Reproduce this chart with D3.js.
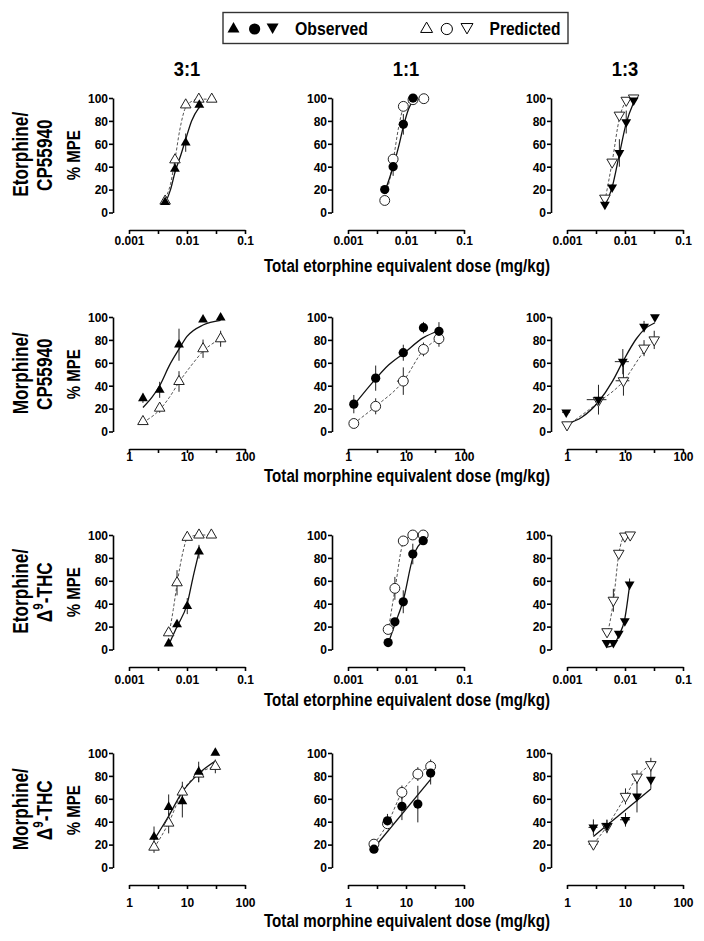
<!DOCTYPE html>
<html><head><meta charset="utf-8">
<script src="https://cdn.jsdelivr.net/npm/d3@7"></script>
<style>
body{margin:0;background:#fff}
svg{display:block}
text{font-family:"Liberation Sans",Arial,Helvetica,sans-serif;font-weight:bold;fill:#000}
</style>
</head><body>
<svg id="chart" width="704" height="941"></svg>
<script>
// ---------------- DATA ----------------
const ratios = ["3:1", "1:1", "1:3"];
const rowNames = [["Etorphine/", "CP55940"], ["Morphine/", "CP55940"], ["Etorphine/", "THC"], ["Morphine/", "THC"]];
const xTitles = ["Total etorphine equivalent dose (mg/kg)", "Total morphine equivalent dose (mg/kg)",
                 "Total etorphine equivalent dose (mg/kg)", "Total morphine equivalent dose (mg/kg)"];
const etorphineTicks = [0.001, 0.01, 0.1];
const etorphineTickLabels = ["0.001", "0.01", "0.1"];
const morphineTicks = [1, 10, 100];
const morphineTickLabels = ["1", "10", "100"];
const yTicks = [0, 20, 40, 60, 80, 100];
const legendObserved = "Observed";
const legendPredicted = "Predicted";

// points: [dose, %MPE, yErr, xErr]
// Row 1: Etorphine / CP55940
const etoCP_obs = [
  [[0.0042, 9, 2, 0], [0.0062, 38, 3, 0], [0.0095, 61, 8, 0], [0.0163, 94, 3, 0]],
  [[0.0043, 20, 2, 0], [0.0060, 40, 8, 0], [0.0090, 77, 9, 0], [0.0132, 100, 0, 0]],
  [[0.0045, 7, 2, 0], [0.0060, 22, 3, 0], [0.0080, 52, 12, 0], [0.0105, 79, 10, 0], [0.0141, 98, 2, 0]]
];
const etoCP_pred = [
  [[0.0042, 10, 0, 0], [0.0062, 46, 5, 0], [0.0095, 94, 2, 0], [0.016, 99, 0, 0], [0.0267, 99, 0, 0]],
  [[0.0043, 10.5, 0, 0], [0.0060, 46.6, 0, 0], [0.0090, 92.7, 0, 0], [0.0132, 98.5, 0, 0], [0.0203, 99.4, 0, 0]],
  [[0.0045, 12.5, 0, 0], [0.0060, 44, 0, 0], [0.0080, 85, 0, 0], [0.0105, 98, 0, 0], [0.0141, 100, 0, 0]]
];
const etoCP_obsFit = [
  [[0.0042, 8], [0.0052, 20], [0.0062, 35], [0.0078, 50], [0.0095, 64], [0.012, 80], [0.0163, 92]],
  [[0.0043, 18], [0.0060, 40], [0.0075, 58], [0.0090, 75], [0.011, 90], [0.0132, 98]],
  [[0.0045, 6], [0.0060, 22], [0.0080, 51], [0.0105, 78], [0.0141, 96]]
];
const etoCP_predFit = [
  [[0.0042, 12], [0.0052, 25], [0.0062, 46], [0.0075, 72], [0.0095, 92], [0.012, 97], [0.016, 99], [0.0267, 99]],
  [[0.0043, 12], [0.0052, 28], [0.0060, 45], [0.0075, 75], [0.0090, 91], [0.0132, 98], [0.0203, 99.4]],
  [[0.0045, 10], [0.0060, 44], [0.0080, 82], [0.0105, 97], [0.0141, 100]]
];

// Row 2: Morphine / CP55940
const morCP_obs = [
  [[1.74, 29, 4, 0], [3.38, 36.4, 7, 0], [7.28, 75.8, 14, 0], [18.9, 97.7, 2, 2], [38, 99.4, 0, 0]],
  [[1.26, 23.9, 8, 0], [3.0, 46.6, 11, 0], [8.98, 68.8, 7, 1.5], [20, 90.7, 5, 2], [37, 87.5, 8, 0]],
  [[0.97, 16.8, 0, 0.15], [3.49, 27.8, 13, 1.3], [9.17, 61, 11, 2.5], [21.3, 91.6, 5, 0], [32.8, 100, 0, 0]]
];
const morCP_pred = [
  [[1.74, 8.7, 2, 0], [3.38, 20.4, 4, 0], [7.28, 43.7, 9, 0], [18.9, 72.3, 8, 0], [38, 81, 7, 0]],
  [[1.26, 7, 0, 0], [3.0, 22, 7, 0], [8.98, 44, 12, 2], [20, 71.7, 6, 0], [37, 81, 7, 0]],
  [[1.0, 5.8, 0, 0], [3.49, 27, 4, 0], [9.4, 44.3, 13, 2.5], [21.3, 72.8, 7, 0], [31.9, 80, 8, 0]]
];
const morCP_obsFit = [
  [[1.74, 21], [2.5, 30], [3.38, 40], [5, 58], [7.28, 72], [10, 83], [18.9, 93], [38, 97]],
  [[1.26, 23], [3, 46], [5, 58], [9, 68], [20, 82], [37, 88]],
  [[1.0, 6.7], [1.8, 12.5], [3.49, 26], [6.1, 44], [9.17, 61], [15.7, 81], [21.3, 89], [32.8, 95]]
];
const morCP_predFit = [
  [[1.74, 8], [3.38, 19], [5, 30], [7.28, 43], [12, 58], [18.9, 70], [38, 81]],
  [[1.26, 7], [3, 22], [9, 44], [20, 71], [37, 81]],
  [[1.0, 5], [3.49, 25.5], [9.4, 44], [21.3, 70], [31.9, 80]]
];

// Row 3: Etorphine / THC
const etoTHC_obs = [
  [[0.00483, 5.2, 0, 0], [0.00673, 21.9, 3, 0], [0.0101, 37.9, 7, 0], [0.0161, 85.4, 6, 0]],
  [[0.00492, 6.1, 0, 0], [0.00643, 24.2, 3, 0], [0.00897, 41.7, 10, 0], [0.0131, 83.4, 9, 0], [0.0198, 95, 2, 0]],
  [[0.00481, 5.8, 0, 0], [0.0063, 5.8, 0, 0], [0.0078, 14, 0, 0], [0.00993, 24.8, 0, 0], [0.012, 57, 5, 0]]
];
const etoTHC_pred = [
  [[0.00483, 14.6, 3, 0], [0.00673, 58.3, 11, 0], [0.0101, 98, 0, 0], [0.0161, 100, 0, 0], [0.0263, 100, 0, 0]],
  [[0.00492, 17.5, 2, 0], [0.00643, 53.4, 10, 0], [0.00897, 94.8, 0, 0], [0.0131, 100, 0, 0], [0.0198, 100, 0, 0]],
  [[0.0049, 15.5, 0, 0], [0.0063, 43, 10, 0], [0.0078, 84, 0, 0], [0.00993, 99, 0, 0], [0.0123, 100, 0, 0]]
];
const etoTHC_obsFit = [
  [[0.00483, 4], [0.00673, 20], [0.0101, 40], [0.0127, 63], [0.0161, 85]],
  [[0.00492, 5], [0.00643, 22], [0.00897, 43], [0.0131, 80], [0.0198, 95]],
  [[0.0049, 2], [0.0063, 4], [0.0078, 12], [0.00993, 27], [0.012, 56]]
];
const etoTHC_predFit = [
  [[0.00483, 12], [0.0058, 35], [0.00673, 57], [0.0085, 85], [0.0101, 97], [0.0161, 100], [0.0263, 100]],
  [[0.00492, 16], [0.00643, 52], [0.00897, 93], [0.0131, 100], [0.0198, 100]],
  [[0.0049, 12], [0.0063, 42], [0.0078, 83], [0.00993, 99], [0.0123, 100]]
];

// Row 4: Morphine / THC
const morTHC_obs = [
  [[2.70, 26.8, 9, 0], [4.83, 52.8, 11, 0], [8.31, 57.7, 14, 0], [15.9, 83.4, 9, 0], [30.8, 100, 0, 0]],
  [[2.80, 16, 2, 0.4], [4.79, 40.8, 6, 0], [8.51, 53.4, 12, 0], [16, 55.4, 16, 0], [26.6, 82.5, 10, 0]],
  [[2.85, 35, 7, 0.5], [4.88, 36.4, 5, 0.7], [10.2, 41.7, 6, 2], [16.1, 62.1, 14, 0], [27.9, 76.7, 8, 0]]
];
const morTHC_pred = [
  [[2.70, 17.8, 5, 0.3], [4.83, 38.8, 9, 0], [8.31, 65.9, 9, 0], [15.9, 81.6, 7, 0], [30.8, 88.3, 6, 0]],
  [[2.80, 20.4, 3, 0.4], [4.79, 38.2, 3, 0], [8.51, 65.6, 6, 0], [16, 81.6, 6, 0], [26.6, 88.3, 6, 0]],
  [[2.85, 20.4, 0, 0.5], [4.88, 35.9, 6, 0], [10.2, 62.1, 7, 0], [16.1, 79, 6, 2], [27.9, 89.8, 6, 2]]
];
const morTHC_obsFit = [
  [[2.70, 24], [4.83, 45], [8.31, 66], [15.9, 82], [30.8, 93]],
  [[2.80, 17], [26.6, 77]],
  [[2.85, 27], [27.9, 68.5]]
];
const morTHC_predFit = [
  [[2.70, 17], [4.83, 39], [8.31, 66], [15.9, 82], [30.8, 88]],
  [[2.80, 20.4], [4.79, 38.2], [8.51, 65.6], [16, 81.6], [26.6, 88.3]],
  [[2.85, 20.4], [4.88, 35.9], [10.2, 62.1], [16.1, 79], [27.9, 89.8]]
];

// ---------------- LAYOUT ----------------
const rows = [
  {obs: etoCP_obs, pred: etoCP_pred, obsFit: etoCP_obsFit, predFit: etoCP_predFit, ticks: etorphineTicks, labels: etorphineTickLabels},
  {obs: morCP_obs, pred: morCP_pred, obsFit: morCP_obsFit, predFit: morCP_predFit, ticks: morphineTicks, labels: morphineTickLabels},
  {obs: etoTHC_obs, pred: etoTHC_pred, obsFit: etoTHC_obsFit, predFit: etoTHC_predFit, ticks: etorphineTicks, labels: etorphineTickLabels},
  {obs: morTHC_obs, pred: morTHC_pred, obsFit: morTHC_obsFit, predFit: morTHC_predFit, ticks: morphineTicks, labels: morphineTickLabels}
];
const colAxisX = [113, 332, 551];
const rowTop = [98, 317, 535, 753];
const plotH = 114.5;
const xStartOff = 16, xEndOff = 132, xAxisOff = 132;
const tickLabelOff = [15, 12, 17, 22];
const xTitleY = [272, 482, 706, 927];
const xTitleX = 407;

const svg = d3.select("#chart");

function fitText(sel, target) {
  const n = sel.node();
  const L = n.getComputedTextLength();
  const s = target / L;
  sel.attr("transform", (sel.attr("transform") || "") + ` scale(${s},1)`);
}
function condense(sel, s) {
  sel.attr("transform", (sel.attr("transform") || "") + ` scale(${s},1)`);
}

const symUp = d3.symbol().type(d3.symbolTriangle);
const symCircle = d3.symbol().type(d3.symbolCircle);
function markerPath(col, size) {
  if (col === 1) return symCircle.size(size * 1.6)();
  return symUp.size(size)();
}
function markerRot(col) { return col === 2 ? 180 : 0; }

// ---------------- LEGEND ----------------
svg.append("rect").attr("x", 223).attr("y", 12.5).attr("width", 345).attr("height", 31)
  .attr("fill", "none").attr("stroke", "#333").attr("stroke-width", 1.4);
[233.5, 254.6, 272.6].forEach((x, i) => {
  svg.append("path").attr("d", markerPath(i, 62))
    .attr("transform", `translate(${x},${i === 2 ? 27 : 29}) rotate(${markerRot(i)})`).attr("fill", "#000");
});
[426.6, 446.8, 467].forEach((x, i) => {
  svg.append("path").attr("d", markerPath(i, 62))
    .attr("transform", `translate(${x},${i === 2 ? 27 : 29}) rotate(${markerRot(i)})`)
    .attr("fill", "#fff").attr("stroke", "#000").attr("stroke-width", 1);
});
{
  const g1 = svg.append("g").attr("transform", "translate(295,35)");
  fitText(g1.append("text").attr("font-size", 18).text(legendObserved), 73);
  const g2 = svg.append("g").attr("transform", "translate(489.5,35)");
  fitText(g2.append("text").attr("font-size", 18).text(legendPredicted), 71);
}

// ---------------- COLUMN TITLES ----------------
ratios.forEach((r, c) => {
  const cx = (colAxisX[c] + xStartOff + colAxisX[c] + xEndOff) / 2;
  const g = svg.append("g").attr("transform", `translate(${cx},76)`);
  condense(g.append("text").attr("font-size", 20).attr("text-anchor", "middle").text(r), 0.92);
});

// ---------------- PANELS ----------------
rows.forEach((row, r) => {
  const top = rowTop[r];
  const cy = top + plotH / 2;
  // row label
  const lg = svg.append("g").attr("transform", `translate(28,${cy - 1}) rotate(-90)`);
  condense(lg.append("text").attr("font-size", 22).attr("text-anchor", "middle").text(rowNames[r][0]), 0.78);
  const lg2 = svg.append("g").attr("transform", `translate(52,${cy}) rotate(-90)`);
  const t2 = lg2.append("text").attr("font-size", 22).attr("text-anchor", "middle");
  if (r >= 2) {
    t2.append("tspan").text("\u0394");
    t2.append("tspan").attr("font-size", 15).attr("dy", -9).text("9");
    t2.append("tspan").attr("dy", 9).text("-" + rowNames[r][1]);
  } else {
    t2.text(rowNames[r][1]);
  }
  condense(t2, 0.78);
  // % MPE
  const mg = svg.append("g").attr("transform", `translate(80,${cy}) rotate(-90)`);
  fitText(mg.append("text").attr("font-size", 18).attr("text-anchor", "middle").text("% MPE"), 50);

  // x title
  const xg = svg.append("g").attr("transform", `translate(${xTitleX},${xTitleY[r]})`);
  condense(xg.append("text").attr("font-size", 18.5).attr("text-anchor", "middle").text(xTitles[r]), 0.82);

  for (let c = 0; c < 3; c++) {
    const ax = colAxisX[c];
    const x = d3.scaleLog().domain([row.ticks[0], row.ticks[row.ticks.length - 1]])
      .range([ax + xStartOff, ax + xEndOff]);
    const y = d3.scaleLinear().domain([0, 100]).range([top + plotH, top]);
    const g = svg.append("g");

    // y axis
    const ya = g.append("g").attr("transform", `translate(${ax},0)`)
      .call(d3.axisLeft(y).tickValues(yTicks).tickSize(4).tickPadding(1).tickSizeOuter(0));
    ya.select(".domain").attr("stroke-width", 1.6);
    ya.selectAll(".tick line").attr("stroke-width", 1.6);
    ya.selectAll(".tick text").attr("font-size", 12).attr("font-family", "Liberation Sans, Arial, sans-serif")
      .attr("font-weight", "bold").attr("dy", "0.36em");

    // x axis: labelled decades plus half-decade ticks
    const allTicks = [];
    row.ticks.forEach((t, i) => {
      allTicks.push(t);
      if (i < row.ticks.length - 1) allTicks.push(Math.sqrt(t * row.ticks[i + 1]));
    });
    const xa = g.append("g").attr("transform", `translate(0,${top + xAxisOff})`)
      .call(d3.axisBottom(x).tickValues(allTicks).tickSize(4).tickSizeOuter(0)
        .tickFormat(d => {
          const i = row.ticks.indexOf(d);
          return i >= 0 ? row.labels[i] : "";
        }));
    xa.select(".domain").attr("stroke-width", 1.6);
    xa.selectAll(".tick line").attr("stroke-width", 1.6);
    xa.selectAll(".tick text").attr("font-size", 12).attr("font-family", "Liberation Sans, Arial, sans-serif")
      .attr("font-weight", "bold").attr("y", tickLabelOff[r]).attr("dy", 0);

    const line = d3.line().x(d => x(d[0])).y(d => y(d[1])).curve(d3.curveMonotoneX);
    // predicted fit (dashed)
    g.append("path").attr("d", line(row.predFit[c])).attr("fill", "none")
      .attr("stroke", "#555").attr("stroke-width", 1).attr("stroke-dasharray", "3,2");
    // observed fit (solid)
    g.append("path").attr("d", line(row.obsFit[c])).attr("fill", "none")
      .attr("stroke", "#111").attr("stroke-width", 1.3);

    // error bars
    const drawErr = (pts) => pts.forEach(p => {
      if (p[2] > 0) g.append("line").attr("x1", x(p[0])).attr("x2", x(p[0]))
        .attr("y1", y(p[1] - p[2])).attr("y2", y(Math.min(100, p[1] + p[2])))
        .attr("stroke", "#222").attr("stroke-width", 1);
      if (p[3] > 0) g.append("line").attr("y1", y(p[1])).attr("y2", y(p[1]))
        .attr("x1", x(p[0] - p[3])).attr("x2", x(p[0] + p[3]))
        .attr("stroke", "#222").attr("stroke-width", 1);
    });
    drawErr(row.pred[c]);
    drawErr(row.obs[c]);

    // markers
    g.selectAll(".pred").data(row.pred[c]).join("path")
      .attr("d", markerPath(c, 48))
      .attr("transform", d => `translate(${x(d[0])},${y(d[1])}) rotate(${markerRot(c)})`)
      .attr("fill", "#fff").attr("stroke", "#222").attr("stroke-width", 1);
    g.selectAll(".obs").data(row.obs[c]).join("path")
      .attr("d", markerPath(c, 42))
      .attr("transform", d => `translate(${x(d[0])},${y(d[1])}) rotate(${markerRot(c)})`)
      .attr("fill", "#000");
  }
});
</script>
</body></html>
